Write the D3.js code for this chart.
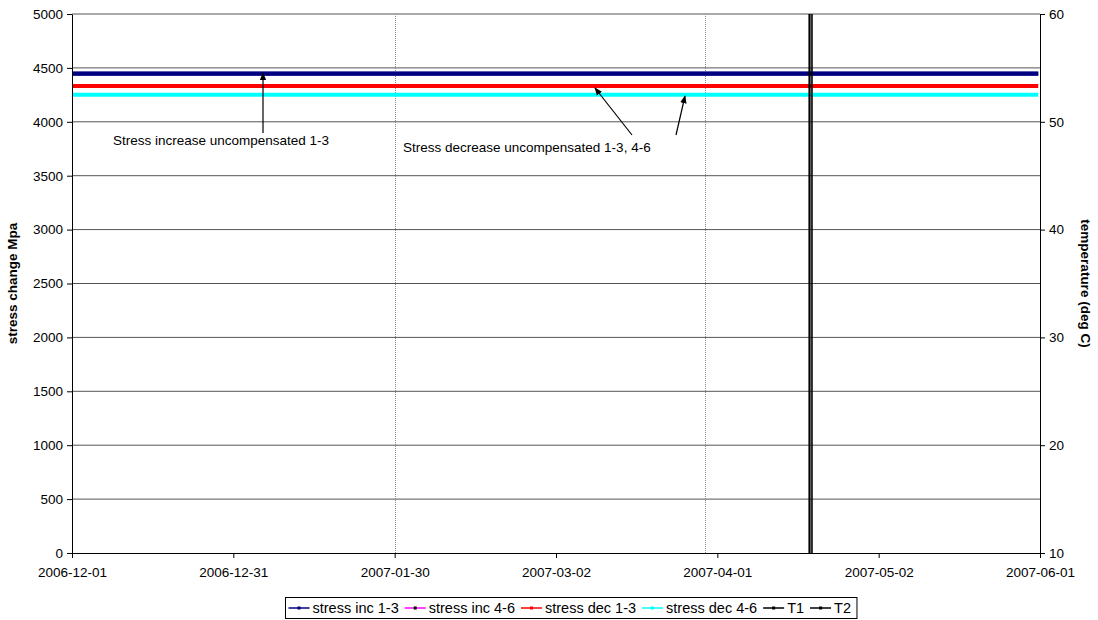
<!DOCTYPE html>
<html>
<head>
<meta charset="utf-8">
<script src="https://cdn.jsdelivr.net/npm/d3@7"></script>
<style>
  body { margin: 0; background: #fff; }
  text { font-family: Arial, "Liberation Sans", sans-serif; }
</style>
</head>
<body>
<div id="chart"></div>
<script>
// ---- data ----
const startDate = "2006-12-01 00:00";
const endDate = "2007-06-01 00:00";
const xTickLabels = ["2006-12-01", "2006-12-31", "2007-01-30", "2007-03-02", "2007-04-01", "2007-05-02", "2007-06-01"];
const yTicks = [0, 500, 1000, 1500, 2000, 2500, 3000, 3500, 4000, 4500, 5000];
const y2Ticks = [10, 20, 30, 40, 50, 60];

// stress series: [date, value]
const stressInc13 = [["2006-12-01 00:00", 4445], ["2007-05-31 16:00", 4445]];
const stressInc46 = [["2006-12-01 00:00", 4448], ["2007-05-31 16:00", 4448]];
const stressDec13 = [["2006-12-01 00:00", 4333], ["2007-05-31 16:00", 4333]];
const stressDec46 = [["2006-12-01 00:00", 4250], ["2007-05-31 16:00", 4250]];
// temperature series (right axis)
const t1 = [["2007-04-18 16:00", 10], ["2007-04-18 16:00", 60]];
const t2 = [["2007-04-19 03:00", 10], ["2007-04-19 03:00", 60]];
// dotted event markers
const eventDates = ["2007-01-30 16:00", "2007-03-30 00:00"];

const seriesNames = ["stress inc 1-3", "stress inc 4-6", "stress dec 1-3", "stress dec 4-6", "T1", "T2"];
const seriesColors = ["#000080", "#ff00ff", "#ff0000", "#00ffff", "#000000", "#000000"];
const markerColors = ["#000080", "#000000", "#ff0000", "#00ffff", "#000000", "#000000"];

// ---- layout ----
const W = 1098, H = 620;
const margin = {top: 14, right: 58, bottom: 67, left: 72};
const width = W - margin.left - margin.right;
const height = H - margin.top - margin.bottom;
const pd = d3.timeParse("%Y-%m-%d %H:%M");

const svg = d3.select("#chart").append("svg")
    .attr("width", W)
    .attr("height", H);

const g = svg.append("g")
    .attr("transform", "translate(" + margin.left + "," + margin.top + ")");

const x = d3.scaleTime().domain([pd(startDate), pd(endDate)]).range([0, width]);
const y = d3.scaleLinear().domain([0, 5000]).range([height, 0]);
const y2 = d3.scaleLinear().domain([10, 60]).range([height, 0]);

// excel-style evenly spaced date ticks
const span = pd(endDate) - pd(startDate);
const xTickValues = xTickLabels.map((d, i) => new Date(+pd(startDate) + span * i / (xTickLabels.length - 1)));

// horizontal grid
g.append("g")
    .selectAll("line")
    .data(yTicks.filter(d => d > 0))
    .join("line")
    .attr("x1", 0).attr("x2", width)
    .attr("y1", d => y(d)).attr("y2", d => y(d))
    .attr("stroke", "#555")
    .attr("stroke-width", 1);

// dotted event lines
g.append("g")
    .selectAll("line")
    .data(eventDates)
    .join("line")
    .attr("x1", d => Math.round(x(pd(d))) + 0.5).attr("x2", d => Math.round(x(pd(d))) + 0.5)
    .attr("y1", 0).attr("y2", height)
    .attr("stroke", "#888")
    .attr("stroke-width", 1)
    .attr("stroke-dasharray", "1,1");

// series lines
const line = d3.line().x(d => x(pd(d[0]))).y(d => y(d[1]));
const tline = d3.line().x(d => x(pd(d[0]))).y(d => y2(d[1]));

const stressSeries = [stressInc46, stressInc13, stressDec13, stressDec46];
const stressColors = ["#000080", "#000080", "#ff0000", "#00ffff"];
g.append("g")
    .selectAll("path")
    .data(stressSeries)
    .join("path")
    .attr("d", line)
    .attr("fill", "none")
    .attr("stroke", (d, i) => stressColors[i])
    .attr("stroke-width", 4);

// temperature lines
g.append("path").datum(t1).attr("d", tline)
    .attr("fill", "none").attr("stroke", "#000").attr("stroke-width", 2.2);
g.append("path").datum(t2).attr("d", tline)
    .attr("fill", "none").attr("stroke", "#000").attr("stroke-width", 1.6);

// axes
const yAxis = d3.axisLeft(y).tickValues(yTicks).tickFormat(d3.format("d")).tickSize(5).tickSizeOuter(0).tickPadding(4);
const y2Axis = d3.axisRight(y2).tickValues(y2Ticks).tickFormat(d3.format("d")).tickSize(5).tickSizeOuter(0).tickPadding(4);
const xAxis = d3.axisBottom(x).tickValues(xTickValues).tickSize(5).tickSizeOuter(0).tickPadding(9)
    .tickFormat((d, i) => xTickLabels[i]);

function styleAxis(sel) {
    sel.select(".domain").attr("stroke", "#000");
    sel.selectAll(".tick line").attr("stroke", "#000");
    sel.selectAll(".tick text").attr("fill", "#000").attr("font-size", 13.5);
}

g.append("g").attr("class", "y-axis").call(yAxis).call(styleAxis);
g.append("g").attr("class", "y2-axis").attr("transform", "translate(" + width + ",0)").call(y2Axis).call(styleAxis);
g.append("g").attr("class", "x-axis").attr("transform", "translate(0," + height + ")").call(xAxis).call(styleAxis);

// axis titles
g.append("text")
    .attr("transform", "translate(-55," + (height / 2) + ") rotate(-90)")
    .attr("text-anchor", "middle")
    .attr("font-size", 13.5)
    .attr("font-weight", "bold")
    .text("stress change Mpa");

g.append("text")
    .attr("transform", "translate(" + (width + 41) + "," + (height / 2) + ") rotate(90)")
    .attr("text-anchor", "middle")
    .attr("font-size", 13.5)
    .attr("font-weight", "bold")
    .text("temperature (deg C)");

// annotations
svg.append("defs").append("marker")
    .attr("id", "arrow")
    .attr("viewBox", "0 0 10 10")
    .attr("refX", 9).attr("refY", 5)
    .attr("markerWidth", 8).attr("markerHeight", 8)
    .attr("markerUnits", "userSpaceOnUse")
    .attr("orient", "auto")
    .append("path")
    .attr("d", "M0,1 L10,5 L0,9 Z")
    .attr("fill", "#000");

const annotations = [
    {text: "Stress increase uncompensated 1-3", tx: 113, ty: 145, arrows: [[263, 133, 263, 73]]},
    {text: "Stress decrease uncompensated 1-3, 4-6", tx: 403, ty: 152, arrows: [[632, 135, 595, 88], [676, 135, 685, 96]]}
];
annotations.forEach(a => {
    svg.append("text")
        .attr("x", a.tx).attr("y", a.ty)
        .attr("font-size", 13.5)
        .text(a.text);
    a.arrows.forEach(ar => {
        svg.append("line")
            .attr("x1", ar[0]).attr("y1", ar[1])
            .attr("x2", ar[2]).attr("y2", ar[3])
            .attr("stroke", "#000")
            .attr("stroke-width", 1.2)
            .attr("marker-end", "url(#arrow)");
    });
});

// legend
const legend = svg.append("g").attr("transform", "translate(285.5,597.5)");
const legendH = 21;
const legendBox = legend.append("rect")
    .attr("height", legendH)
    .attr("fill", "#fff").attr("stroke", "#000");

let lx = 3;
seriesNames.forEach((name, i) => {
    const item = legend.append("g").attr("transform", "translate(" + lx + "," + (legendH / 2) + ")");
    item.append("line").attr("x1", 0).attr("x2", 21).attr("y1", 0).attr("y2", 0)
        .attr("stroke", seriesColors[i]).attr("stroke-width", 1.5);
    item.append("rect").attr("x", 9).attr("y", -1.5).attr("width", 3).attr("height", 3)
        .attr("fill", markerColors[i]);
    const t = item.append("text").attr("x", 24).attr("y", 5).attr("font-size", 14.5).text(name);
    lx += 24 + t.node().getComputedTextLength() + 6;
});
legendBox.attr("width", lx);
</script>
</body>
</html>
